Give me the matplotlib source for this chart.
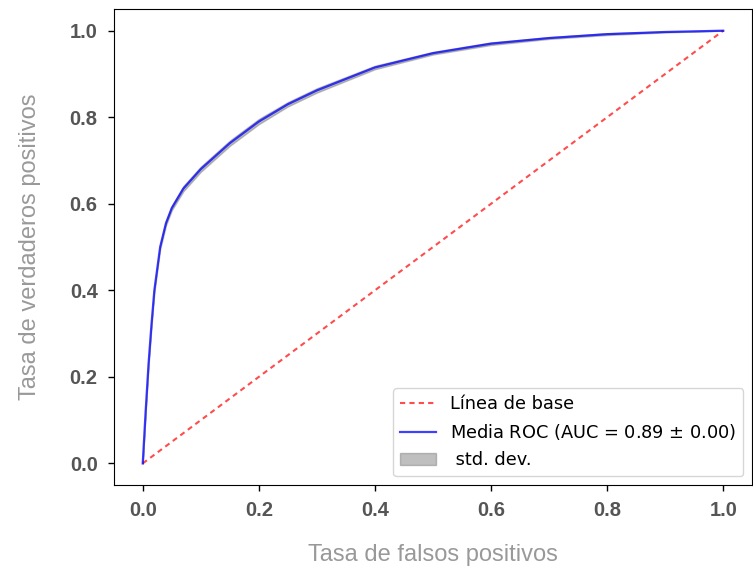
import matplotlib
matplotlib.use('Agg')
import matplotlib.pyplot as plt

# Mean ROC curve
fpr = [0.0, 0.005, 0.01, 0.015, 0.02, 0.03, 0.04, 0.05, 0.07, 0.1, 0.15, 0.2,
       0.25, 0.3, 0.4, 0.5, 0.6, 0.7, 0.8, 0.9, 1.0]
tpr = [0.0, 0.12, 0.23, 0.32, 0.40, 0.50, 0.555, 0.59, 0.635, 0.68, 0.74, 0.79,
       0.83, 0.862, 0.915, 0.948, 0.97, 0.983, 0.992, 0.997, 1.0]
tpr_std = [0.0, 0.004, 0.005, 0.005, 0.005, 0.005, 0.005, 0.005, 0.006, 0.006, 0.006, 0.006,
           0.005, 0.005, 0.004, 0.003, 0.003, 0.002, 0.002, 0.001, 0.0]
base = [0.0, 1.0]
mean_auc = 0.89
std_auc = 0.00

fig = plt.figure(figsize=(7.53, 5.66), dpi=100)
ax = fig.add_axes([0.151, 0.143, 0.848, 0.841])

ax.plot(base, base, linestyle=(0, (2.5, 2)), lw=1.5, color='r', alpha=0.7,
        label='Línea de base')
ax.plot(fpr, tpr, color='b', lw=1.6, alpha=0.75,
        label='Media ROC (AUC = %0.2f $\\pm$ %0.2f)' % (mean_auc, std_auc))
upper = [min(t + s, 1) for t, s in zip(tpr, tpr_std)]
lower = [max(t - s, 0) for t, s in zip(tpr, tpr_std)]
ax.fill_between(fpr, lower, upper, color='grey', alpha=0.5, label=' std. dev.')

ax.set_xlim(-0.05, 1.05)
ax.set_ylim(-0.05, 1.05)
ax.set_xticks([0, 0.2, 0.4, 0.6, 0.8, 1.0])
ax.set_yticks([0, 0.2, 0.4, 0.6, 0.8, 1.0])
for lab in ax.get_xticklabels() + ax.get_yticklabels():
    lab.set_family('Liberation Sans')
    lab.set_fontweight('bold')
    lab.set_fontsize(14.5)
    lab.set_color('#555555')
ax.tick_params(length=4.5, width=1, pad=7)

ax.set_xlabel('Tasa de falsos positivos', family='Liberation Sans', fontsize=17,
              color='#999999', labelpad=17)
ax.set_ylabel('Tasa de verdaderos positivos', family='Liberation Sans', fontsize=17,
              color='#999999', labelpad=21)

ax.legend(loc='lower right', fontsize=12.8)

fig.savefig('out.png', dpi=100)
